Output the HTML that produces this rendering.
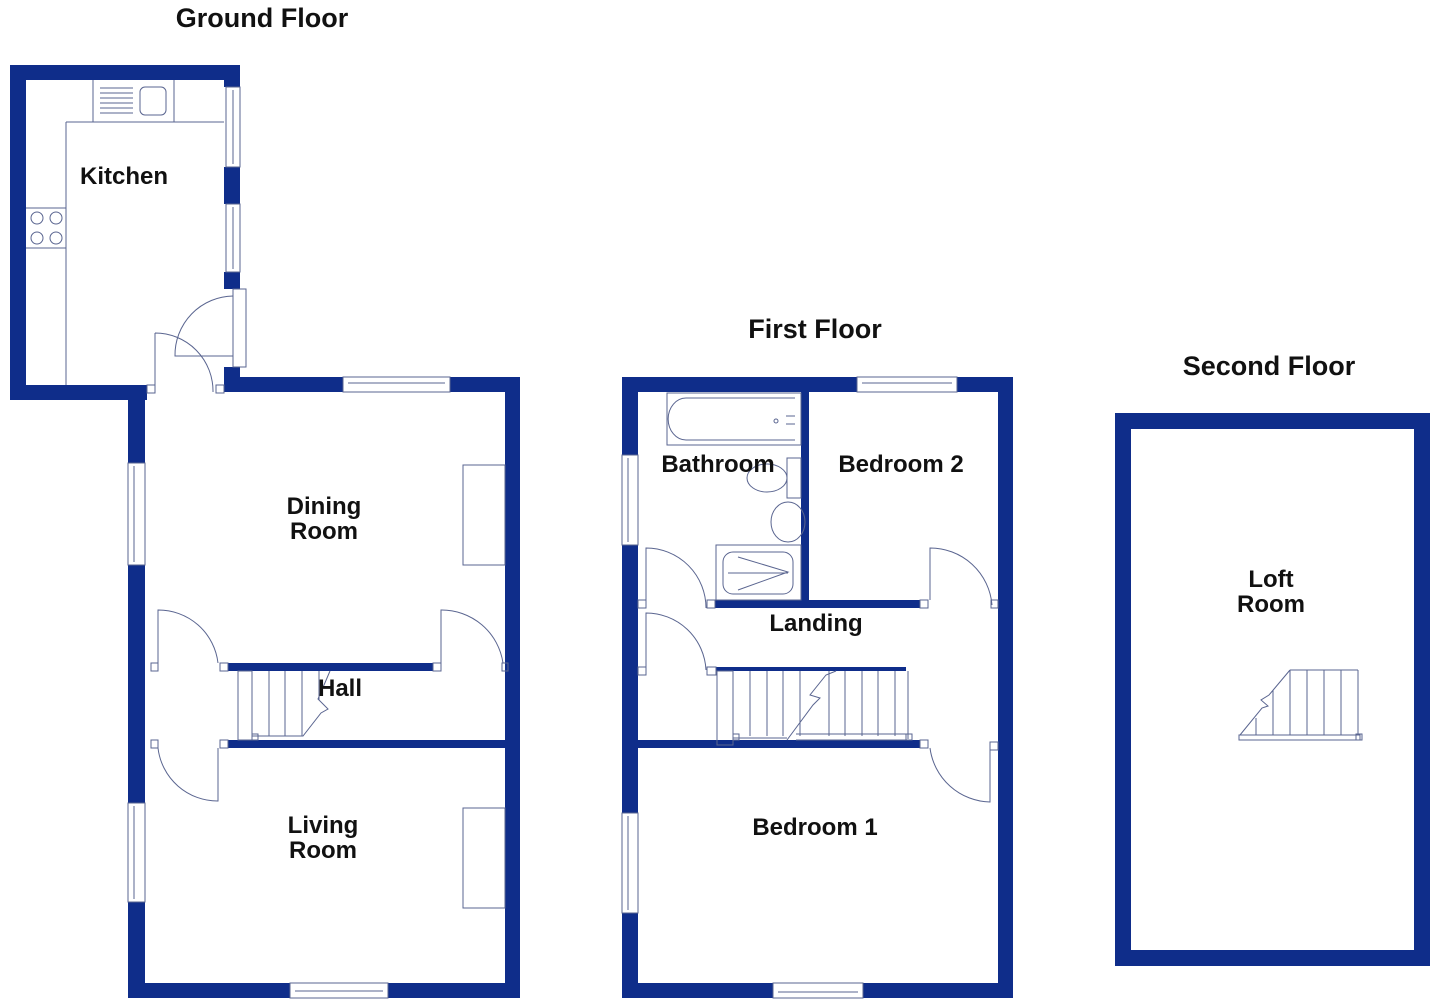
<!DOCTYPE html>
<html><head><meta charset="utf-8"><style>
html,body{margin:0;padding:0;background:#fff;}
svg{display:block;}
text{font-family:"Liberation Sans",Arial,sans-serif;font-weight:bold;fill:#111;}
</style></head><body>
<svg width="1442" height="1008" viewBox="0 0 1442 1008" xmlns="http://www.w3.org/2000/svg">
<g fill="#0f2d8a">
<rect x="10" y="65" width="230" height="15"/>
<rect x="10" y="65" width="16" height="335"/>
<rect x="10" y="385" width="137" height="15"/>
<rect x="224" y="65" width="16" height="22"/>
<rect x="224" y="167" width="16" height="37"/>
<rect x="224" y="272" width="16" height="17"/>
<rect x="224" y="367" width="16" height="25"/>
<rect x="224" y="377" width="119" height="15"/>
<rect x="450" y="377" width="70" height="15"/>
<rect x="505" y="377" width="15" height="621"/>
<rect x="128" y="392" width="17" height="71"/>
<rect x="128" y="565" width="17" height="98"/>
<rect x="128" y="663" width="17" height="8"/>
<rect x="128" y="671" width="17" height="69"/>
<rect x="128" y="740" width="17" height="63"/>
<rect x="128" y="902" width="17" height="96"/>
<rect x="128" y="983" width="162" height="15"/>
<rect x="388" y="983" width="132" height="15"/>
<rect x="228" y="663" width="205" height="8"/>
<rect x="228" y="740" width="277" height="8"/>
<rect x="622" y="377" width="235" height="15"/>
<rect x="957" y="377" width="56" height="15"/>
<rect x="998" y="377" width="15" height="621"/>
<rect x="622" y="377" width="16" height="78"/>
<rect x="622" y="545" width="16" height="268"/>
<rect x="622" y="913" width="16" height="85"/>
<rect x="622" y="983" width="151" height="15"/>
<rect x="863" y="983" width="150" height="15"/>
<rect x="801" y="392" width="8" height="216"/>
<rect x="715" y="600" width="205" height="8"/>
<rect x="637" y="740" width="283" height="8"/>
<rect x="716" y="667" width="190" height="4"/>
<rect x="1115" y="413" width="315" height="16"/>
<rect x="1115" y="950" width="315" height="16"/>
<rect x="1115" y="413" width="16" height="553"/>
<rect x="1414" y="413" width="16" height="553"/>
</g>
<g fill="none" stroke="#5a6590" stroke-width="1">
<line x1="66" y1="122" x2="66" y2="385"/>
<line x1="66" y1="122" x2="224" y2="122"/>
<line x1="93" y1="80" x2="93" y2="122"/><line x1="174" y1="80" x2="174" y2="122"/>
<line x1="100" y1="88" x2="133" y2="88"/><line x1="100" y1="93" x2="133" y2="93"/><line x1="100" y1="98" x2="133" y2="98"/><line x1="100" y1="103" x2="133" y2="103"/><line x1="100" y1="108" x2="133" y2="108"/><line x1="100" y1="113" x2="133" y2="113"/>
<rect x="140" y="87" width="26" height="28" rx="5"/>
<line x1="26" y1="208" x2="66" y2="208"/><line x1="26" y1="248" x2="66" y2="248"/>
<circle cx="37" cy="218" r="6"/><circle cx="56" cy="218" r="6"/><circle cx="37" cy="238" r="6"/><circle cx="56" cy="238" r="6"/>
<rect x="226" y="87" width="14" height="80"/><line x1="233" y1="90" x2="233" y2="164"/>
<rect x="226" y="204" width="14" height="68"/><line x1="233" y1="207" x2="233" y2="269"/>
<rect x="233" y="289" width="13" height="78"/>
<path d="M233 296 A59 59 0 0 0 175 356 L233 356"/>
<path d="M155 333 L155 392 M155 333 A58 58 0 0 1 213 392"/>
<rect x="147" y="385" width="8" height="8"/><rect x="216" y="385" width="8" height="8"/>
<rect x="343" y="377" width="107" height="15"/><line x1="348" y1="383" x2="445" y2="383"/>
<rect x="128" y="463" width="17" height="102"/><line x1="134" y1="466" x2="134" y2="562"/>
<rect x="128" y="803" width="17" height="99"/><line x1="134" y1="806" x2="134" y2="899"/>
<rect x="290" y="983" width="98" height="15"/><line x1="295" y1="991" x2="383" y2="991"/>
<rect x="463" y="465" width="42" height="100"/>
<rect x="463" y="808" width="42" height="100"/>
<path d="M158 663 L158 610 A60 60 0 0 1 218 663"/>
<path d="M441 663 L441 610 A62 62 0 0 1 503 663"/>
<path d="M158 748 A60 60 0 0 0 218 801 L218 748"/>
<rect x="151" y="663" width="7" height="8"/><rect x="220" y="663" width="8" height="8"/>
<rect x="433" y="663" width="8" height="8"/><rect x="502" y="663" width="6" height="8"/>
<rect x="151" y="740" width="7" height="8"/><rect x="220" y="740" width="8" height="8"/>
<rect x="238" y="671" width="14" height="69"/>
<line x1="252" y1="671" x2="252" y2="736"/><line x1="269" y1="671" x2="269" y2="736"/><line x1="285" y1="671" x2="285" y2="736"/><line x1="302" y1="671" x2="302" y2="736"/>
<polyline points="252,736 303,736 321,713 328,709 318,699 330,671"/>
<line x1="319" y1="671" x2="319" y2="700"/>
<rect x="252" y="734" width="6" height="6"/>
<rect x="857" y="377" width="100" height="15"/><line x1="862" y1="383" x2="952" y2="383"/>
<rect x="622" y="455" width="16" height="90"/><line x1="628" y1="458" x2="628" y2="542"/>
<rect x="622" y="813" width="16" height="100"/><line x1="628" y1="816" x2="628" y2="910"/>
<rect x="773" y="983" width="90" height="15"/><line x1="778" y1="992" x2="858" y2="992"/>
<rect x="667" y="393" width="134" height="52"/>
<path d="M795 398 L686 398 A17 20 0 0 0 686 440 L795 440"/>
<circle cx="776" cy="421" r="2"/>
<line x1="786" y1="416" x2="795" y2="416"/><line x1="786" y1="424" x2="795" y2="424"/>
<rect x="787" y="458" width="14" height="40"/>
<ellipse cx="767" cy="478" rx="20" ry="14"/>
<ellipse cx="788" cy="522" rx="17" ry="20"/>
<rect x="716" y="545" width="85" height="55"/>
<rect x="723" y="552" width="70" height="42" rx="10"/>
<polyline points="738,557 788,572 738,590"/><line x1="728" y1="573" x2="788" y2="573"/>
<path d="M646 608 L646 548 A60 60 0 0 1 706 608"/>
<path d="M646 668 L646 613 A60 60 0 0 1 706 670"/>
<path d="M930 600 L930 548 A62 62 0 0 1 992 605"/>
<path d="M990 742 L990 802 A62 62 0 0 1 930 748"/>
<rect x="638" y="600" width="8" height="8"/><rect x="707" y="600" width="8" height="8"/>
<rect x="920" y="600" width="8" height="8"/><rect x="991" y="600" width="7" height="8"/>
<rect x="638" y="667" width="8" height="8"/><rect x="707" y="667" width="9" height="8"/>
<rect x="920" y="740" width="8" height="8"/><rect x="990" y="742" width="8" height="8"/>
<rect x="717" y="671" width="16" height="74"/>
<line x1="733" y1="671" x2="733" y2="736"/><line x1="750" y1="671" x2="750" y2="736"/><line x1="767" y1="671" x2="767" y2="736"/><line x1="783" y1="671" x2="783" y2="736"/><line x1="800" y1="671" x2="800" y2="736"/>
<line x1="829" y1="671" x2="829" y2="736"/><line x1="845" y1="671" x2="845" y2="736"/><line x1="862" y1="671" x2="862" y2="736"/><line x1="878" y1="671" x2="878" y2="736"/><line x1="895" y1="671" x2="895" y2="736"/>
<line x1="908" y1="671" x2="908" y2="739"/>
<line x1="733" y1="738" x2="787" y2="738"/>
<polyline points="787,740 813,705 820,698 810,695 826,675 836,671"/>
<line x1="796" y1="740" x2="910" y2="740"/><line x1="796" y1="734" x2="906" y2="734"/>
<rect x="733" y="734" width="6" height="6"/><rect x="906" y="734" width="6" height="6"/>
<line x1="1290" y1="670" x2="1358" y2="670"/>
<line x1="1290" y1="670" x2="1290" y2="735"/><line x1="1307" y1="670" x2="1307" y2="735"/><line x1="1324" y1="670" x2="1324" y2="735"/><line x1="1341" y1="670" x2="1341" y2="735"/><line x1="1358" y1="670" x2="1358" y2="735"/>
<line x1="1256" y1="718" x2="1256" y2="735"/><line x1="1273" y1="690" x2="1273" y2="735"/>
<polyline points="1240,735 1262,708 1268,706 1261,700 1269,695 1290,670"/>
<rect x="1239" y="735" width="121" height="5"/><rect x="1356" y="734" width="6" height="6"/>
</g>
<g font-size="27" text-anchor="middle">
<text x="262" y="27">Ground Floor</text>
<text x="815" y="338">First Floor</text>
<text x="1269" y="375">Second Floor</text>
</g>
<g font-size="24" text-anchor="middle">
<text x="124" y="184">Kitchen</text>
<text x="324" y="514">Dining</text><text x="324" y="539">Room</text>
<text x="340" y="696">Hall</text>
<text x="323" y="833">Living</text><text x="323" y="858">Room</text>
<text x="718" y="472">Bathroom</text>
<text x="901" y="472">Bedroom 2</text>
<text x="816" y="631">Landing</text>
<text x="815" y="835">Bedroom 1</text>
<text x="1271" y="587">Loft</text><text x="1271" y="612">Room</text>
</g>
</svg>
</body></html>
